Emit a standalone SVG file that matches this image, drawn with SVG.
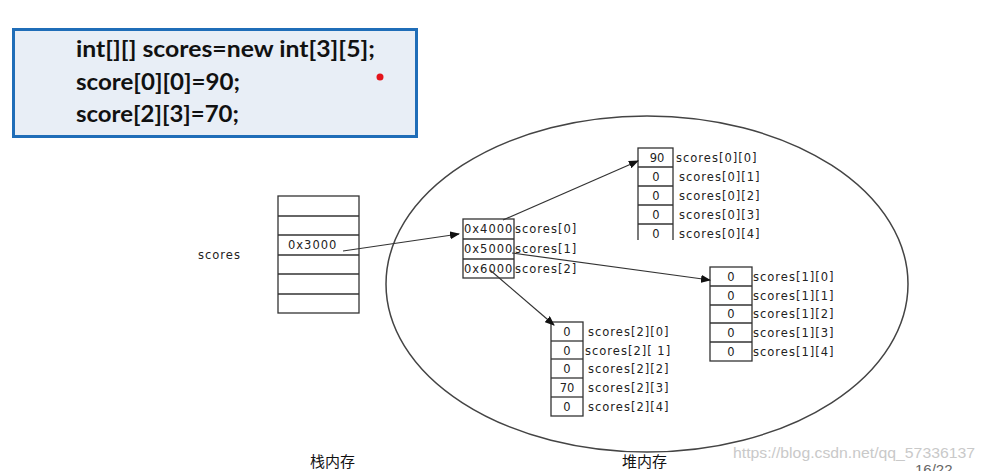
<svg xmlns="http://www.w3.org/2000/svg" width="985" height="471" viewBox="0 0 985 471">
<style>
.code{font-family:Lato,"Open Sans","Liberation Sans",sans-serif;font-weight:bold;font-size:22px;fill:#111}
.t{font-family:"DejaVu Sans","Liberation Sans",sans-serif;font-size:11.5px;letter-spacing:1px;fill:#222}
.v{font-family:"DejaVu Sans","Liberation Sans",sans-serif;font-size:11.5px;fill:#222;text-anchor:middle}
.cell{fill:#fff;stroke:#333;stroke-width:1.3}
.ln{stroke:#333;stroke-width:1.3}
.arrow{stroke:#333;stroke-width:1.2;fill:none;marker-end:url(#ah)}
.cjk{font-family:"Liberation Sans","Noto Sans CJK SC",sans-serif;font-size:15px;fill:#111}
</style>
<defs>
<marker id="ah" markerWidth="10" markerHeight="8" refX="9" refY="4" orient="auto" markerUnits="userSpaceOnUse">
<path d="M0,0 L10,4 L0,8 Z" fill="#111"/>
</marker>
<clipPath id="clip0"><rect x="600" y="140" width="200" height="100"/></clipPath>
</defs>
<rect width="985" height="471" fill="#fff"/>

<g id="code">
<rect x="15" y="31" width="403" height="107" fill="#d8dde4"/>
<rect x="13.5" y="29.5" width="403" height="107" fill="#e8eef6" stroke="#1f6db8" stroke-width="3"/>
<text class="code" x="76" y="57" textLength="299" lengthAdjust="spacingAndGlyphs">int[][] scores=new int[3][5];</text>
<text class="code" x="76" y="90" textLength="164" lengthAdjust="spacingAndGlyphs">score[0][0]=90;</text>
<text class="code" x="76" y="122" textLength="163" lengthAdjust="spacingAndGlyphs">score[2][3]=70;</text>
<circle cx="380" cy="77" r="3.5" fill="#e4141b"/>
</g>

<g id="heap">
<ellipse cx="647" cy="284" rx="261" ry="168" fill="none" stroke="#444" stroke-width="1.5"/>
</g>

<g id="stack">
<text class="t" x="198" y="259">scores</text>
<rect class="cell" x="278" y="196" width="81" height="117"/>
<line class="ln" x1="278" y1="216" x2="359" y2="216"/>
<line class="ln" x1="278" y1="235" x2="359" y2="235"/>
<line class="ln" x1="278" y1="255" x2="359" y2="255"/>
<line class="ln" x1="278" y1="274" x2="359" y2="274"/>
<line class="ln" x1="278" y1="294" x2="359" y2="294"/>
<text class="t" x="288" y="249">0x3000</text>
</g>

<g id="scores">
<rect class="cell" x="463" y="219" width="51" height="59"/>
<line class="ln" x1="463" y1="239" x2="514" y2="239"/>
<line class="ln" x1="463" y1="259" x2="514" y2="259"/>
<text class="t" x="464" y="233">0x4000</text>
<text class="t" x="464" y="253">0x5000</text>
<text class="t" x="464" y="273">0x6000</text>
<text class="t" x="515" y="233">scores[0]</text>
<text class="t" x="515" y="253">scores[1]</text>
<text class="t" x="515" y="273">scores[2]</text>
</g>

<g id="array0" clip-path="url(#clip0)">
<rect class="cell" x="638" y="148" width="35" height="96"/>
<line class="ln" x1="638" y1="167" x2="673" y2="167"/>
<line class="ln" x1="638" y1="186" x2="673" y2="186"/>
<line class="ln" x1="638" y1="205" x2="673" y2="205"/>
<line class="ln" x1="638" y1="224" x2="673" y2="224"/>
<text class="v" x="657" y="162">90</text>
<text class="v" x="656" y="181">0</text>
<text class="v" x="656" y="200">0</text>
<text class="v" x="656" y="219">0</text>
<text class="v" x="656" y="238">0</text>
<text class="t" x="676" y="162">scores[0][0]</text>
<text class="t" x="679" y="181">scores[0][1]</text>
<text class="t" x="679" y="200">scores[0][2]</text>
<text class="t" x="679" y="219">scores[0][3]</text>
<text class="t" x="679" y="238">scores[0][4]</text>
</g>

<g id="array1">
<rect class="cell" x="710" y="267" width="42" height="94"/>
<line class="ln" x1="710" y1="286" x2="752" y2="286"/>
<line class="ln" x1="710" y1="305" x2="752" y2="305"/>
<line class="ln" x1="710" y1="323" x2="752" y2="323"/>
<line class="ln" x1="710" y1="342" x2="752" y2="342"/>
<text class="v" x="731" y="281">0</text>
<text class="v" x="731" y="300">0</text>
<text class="v" x="731" y="318">0</text>
<text class="v" x="731" y="337">0</text>
<text class="v" x="731" y="356">0</text>
<text class="t" x="753" y="281">scores[1][0]</text>
<text class="t" x="753" y="300">scores[1][1]</text>
<text class="t" x="753" y="318">scores[1][2]</text>
<text class="t" x="753" y="337">scores[1][3]</text>
<text class="t" x="753" y="356">scores[1][4]</text>
</g>

<g id="array2">
<rect class="cell" x="551" y="322" width="32" height="94"/>
<line class="ln" x1="551" y1="341" x2="583" y2="341"/>
<line class="ln" x1="551" y1="359" x2="583" y2="359"/>
<line class="ln" x1="551" y1="378" x2="583" y2="378"/>
<line class="ln" x1="551" y1="397" x2="583" y2="397"/>
<text class="v" x="567" y="336">0</text>
<text class="v" x="567" y="355">0</text>
<text class="v" x="567" y="373">0</text>
<text class="v" x="567" y="392">70</text>
<text class="v" x="567" y="411">0</text>
<text class="t" x="588" y="336">scores[2][0]</text>
<text class="t" x="585" y="355">scores[2][ 1]</text>
<text class="t" x="588" y="373">scores[2][2]</text>
<text class="t" x="588" y="392">scores[2][3]</text>
<text class="t" x="588" y="411">scores[2][4]</text>
</g>

<g id="connectors">
<line class="arrow" x1="343" y1="251" x2="459" y2="234"/>
<line class="arrow" x1="503" y1="220" x2="638" y2="161"/>
<line class="arrow" x1="512" y1="253" x2="710" y2="280"/>
<line class="arrow" x1="490" y1="270" x2="554" y2="325"/>
</g>

<g id="labels">
<text class="cjk" x="310" y="467">栈内存</text>
<text class="cjk" x="622" y="467">堆内存</text>
<text x="733" y="458" font-family="'Liberation Sans',Arial,sans-serif" font-size="15" fill="#c9c9c9" textLength="242" lengthAdjust="spacingAndGlyphs">https://blog.csdn.net/qq_57336137</text>
<text x="915" y="475" font-family="'Liberation Sans',Arial,sans-serif" font-size="15" fill="#666">16/22</text>
</g>
</svg>
